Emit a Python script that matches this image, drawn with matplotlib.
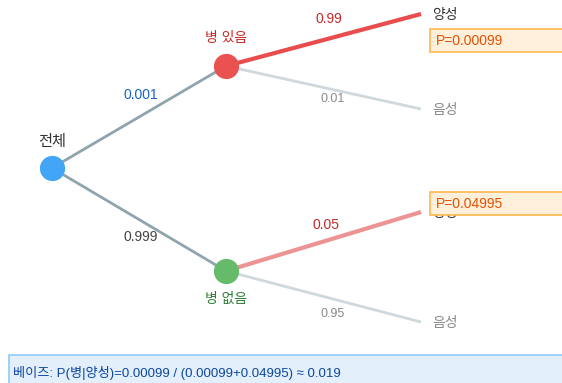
import matplotlib
matplotlib.use('Agg')
import matplotlib.pyplot as plt
from matplotlib.patches import Rectangle

plt.rcParams['font.family'] = ['Liberation Sans', 'Noto Sans CJK KR', 'DejaVu Sans']

# data
root_label = '전체'
level1_labels = ['병 있음', '병 없음']
level1_probs = ['0.001', '0.999']
level2_labels = ['양성', '음성']
level2_probs = [['0.99', '0.01'], ['0.05', '0.95']]
joint_probs = ['P=0.00099', 'P=0.04995']
bayes_text = '베이즈: P(병|양성)=0.00099 / (0.00099+0.04995) ≈ 0.019'

# layout (pixels)
W, H = 562, 383
x0, x1, x2 = 52, 226, 421
y_root = 168
y_l1 = [66, 271]
y_l2 = [[14, 109], [212, 322]]

fig = plt.figure(figsize=(W / 100, H / 100), dpi=100)
ax = fig.add_axes([0, 0, 1, 1])
ax.set_xlim(0, W)
ax.set_ylim(H, 0)
ax.axis('off')

# root -> level1
for i in range(2):
    ax.plot([x0, x1], [y_root, y_l1[i]], color='#90a4ae', lw=2, zorder=1,
            solid_capstyle='butt')

# level1 -> level2
pos_colors = ['#e84c4c', '#ec9494']
for i in range(2):
    ax.plot([x1, x2], [y_l1[i], y_l2[i][0]], color=pos_colors[i], lw=3, zorder=1,
            solid_capstyle='butt')
    ax.plot([x1, x2], [y_l1[i], y_l2[i][1]], color='#cfd8dc', lw=2, zorder=1,
            solid_capstyle='butt')

# nodes
ax.scatter([x0], [y_root], s=330, color='#42a5f5', zorder=3, linewidths=0)
ax.scatter([x1], [y_l1[0]], s=330, color='#ea5252', zorder=3, linewidths=0)
ax.scatter([x1], [y_l1[1]], s=330, color='#66bb6a', zorder=3, linewidths=0)

# node labels
ax.text(x0, 142, root_label, ha='center', va='center', fontsize=11, color='#333333')
ax.text(x1, 38, level1_labels[0], ha='center', va='center', fontsize=10, color='#c62828')
ax.text(x1, 299, level1_labels[1], ha='center', va='center', fontsize=10, color='#2e7d32')

# branch prob labels
ax.text(141, 95, level1_probs[0], ha='center', va='center', fontsize=10, color='#1565c0')
ax.text(141, 237, level1_probs[1], ha='center', va='center', fontsize=10, color='#444444')
ax.text(329, 19, level2_probs[0][0], ha='center', va='center', fontsize=10, color='#c62828')
ax.text(333, 99, level2_probs[0][1], ha='center', va='center', fontsize=9, color='#8a8a8a')
ax.text(326, 225, level2_probs[1][0], ha='center', va='center', fontsize=10, color='#c62828')
ax.text(333, 314, level2_probs[1][1], ha='center', va='center', fontsize=9, color='#8a8a8a')

# leaf labels
for i in range(2):
    ax.text(432, y_l2[i][0] + 1, level2_labels[0], ha='left', va='center',
            fontsize=10, color='#333333', zorder=2)
    ax.text(432, y_l2[i][1] + 1, level2_labels[1], ha='left', va='center',
            fontsize=10, color='#8a8a8a', zorder=2)

# joint probability boxes
box_tops = [29, 192]
for i in range(2):
    ax.add_patch(Rectangle((430, box_tops[i]), 140, 23, facecolor='#fff0dc',
                           edgecolor='#ffb74d', lw=1.2, zorder=4))
    ax.text(436, box_tops[i] + 12, joint_probs[i], ha='left', va='center',
            fontsize=10, color='#e65100', zorder=5)

# bayes box
ax.add_patch(Rectangle((9, 355), 560, 35, facecolor='#e3f0fc',
                       edgecolor='#90caf9', lw=1.2, zorder=4))
ax.text(13, 373, bayes_text, ha='left', va='center', fontsize=9.5,
        color='#0d47a1', zorder=5)

fig.savefig('out.png', dpi=100)
